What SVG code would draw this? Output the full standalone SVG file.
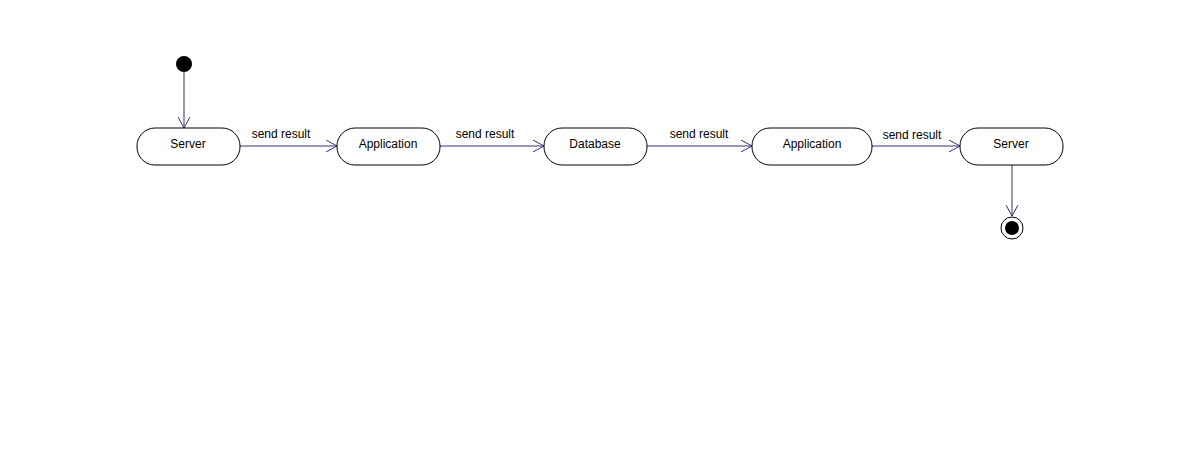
<svg xmlns="http://www.w3.org/2000/svg" width="1199" height="456" viewBox="0 0 1199 456">
<style>
.state{fill:#fff;stroke:#000;stroke-width:1}
.lbl{font-family:"Liberation Sans",Arial,sans-serif;font-size:12px;fill:#000;text-anchor:middle}
.edge{stroke:#333377;stroke-width:1;fill:none;marker-end:url(#arr)}
</style>
<defs>
<marker id="arr" markerWidth="12" markerHeight="12" refX="11" refY="6" orient="auto" markerUnits="userSpaceOnUse">
<path d="M0,0 L11,6 L0,12" fill="none" stroke="#333377" stroke-width="1"/>
</marker>
</defs>
<rect width="1199" height="456" fill="#fff"/>
<g id="connectors">
<line class="edge" x1="184" y1="72" x2="184" y2="128"/>
<line class="edge" x1="240" y1="146" x2="337" y2="146"/>
<line class="edge" x1="440" y1="146" x2="544" y2="146"/>
<line class="edge" x1="647" y1="146" x2="752" y2="146"/>
<line class="edge" x1="872" y1="146" x2="960" y2="146"/>
<line class="edge" x1="1012" y1="162" x2="1012" y2="216"/>
<text class="lbl" x="281" y="138">send result</text>
<text class="lbl" x="485" y="138">send result</text>
<text class="lbl" x="699" y="138">send result</text>
<text class="lbl" x="912" y="139">send result</text>
</g>
<g id="start"><circle cx="184" cy="64" r="8" fill="#000"/></g>
<g id="server1"><rect class="state" x="137" y="128" width="103" height="37" rx="18" ry="18"/><text class="lbl" x="188" y="148">Server</text></g>
<g id="application1"><rect class="state" x="337" y="128" width="103" height="37" rx="18" ry="18"/><text class="lbl" x="388" y="148">Application</text></g>
<g id="database"><rect class="state" x="544" y="128" width="103" height="37" rx="18" ry="18"/><text class="lbl" x="595" y="148">Database</text></g>
<g id="application2"><rect class="state" x="752" y="128" width="120" height="37" rx="18" ry="18"/><text class="lbl" x="812" y="148">Application</text></g>
<g id="server2"><rect class="state" x="960" y="128" width="103" height="37" rx="18" ry="18"/><text class="lbl" x="1011" y="148">Server</text></g>
<g id="end"><circle cx="1012" cy="228" r="11" fill="#fff" stroke="#000" stroke-width="1"/><circle cx="1012" cy="228" r="7" fill="#000"/></g>
</svg>
